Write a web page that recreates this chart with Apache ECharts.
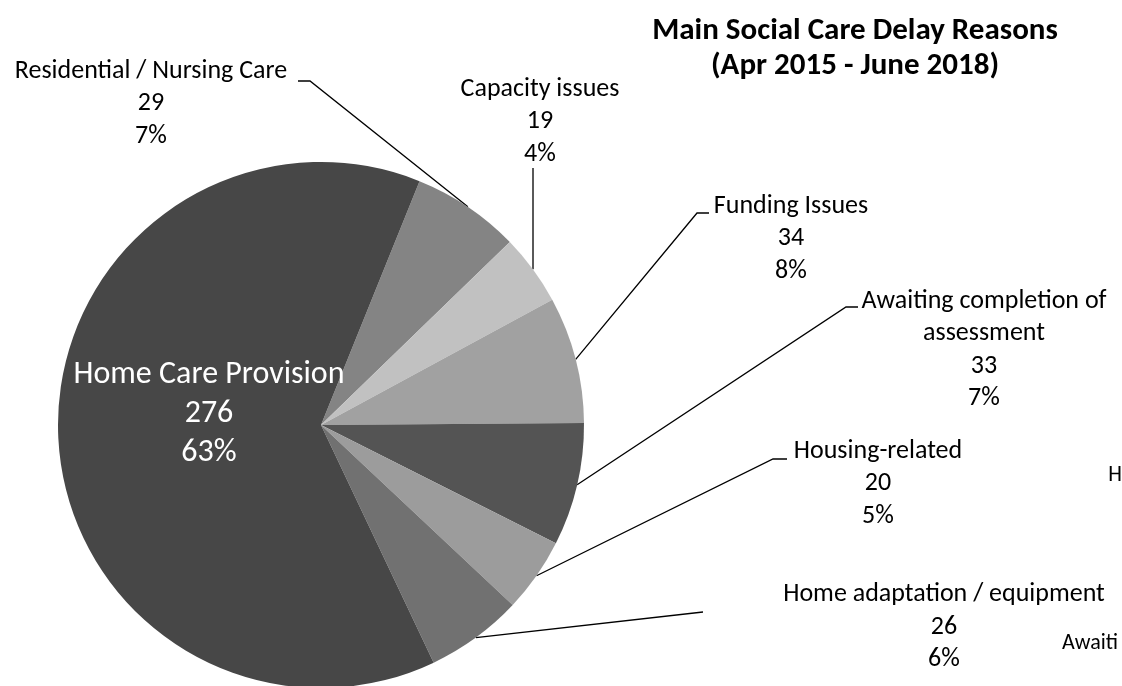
<!DOCTYPE html>
<html>
<head>
<meta charset="utf-8">
<script src="https://cdn.jsdelivr.net/npm/echarts@6/dist/echarts.min.js"></script>
<style>
html,body{margin:0;padding:0;background:#ffffff;}
#chart{width:1122px;height:686px;}
</style>
</head>
<body>
<div id="chart"></div>
<script>
// ---- data ----
const categories = [
  'Residential / Nursing Care',
  'Capacity issues',
  'Funding Issues',
  'Awaiting completion of\nassessment',
  'Housing-related',
  'Home adaptation / equipment',
  'Home Care Provision',
  'H',
  'Awaiti'
];
const values = [29, 19, 34, 33, 20, 26, 276, 0, 0];
const percentLabels = ['7%', '4%', '8%', '7%', '5%', '6%', '63%', '', ''];
const titleLines = ['Main Social Care Delay Reasons', '(Apr 2015 - June 2018)'];

// ---- styles ----
const sliceColors = ['#848484', '#c1c1c1', '#a1a1a1', '#545454', '#9c9c9c', '#717171', '#474747', '#474747', '#474747'];
const FONT = 'Carlito, Lato, sans-serif';

// label placement (layout only)
const labelPlacement = [
  { x: 151, y: 103.5, align: 'center', line: [[310, 81], [298, 81]] },
  { x: 540, y: 121.5, align: 'center', line: 'vertical', lineTop: 168 },
  { x: 791, y: 238.5, align: 'center', line: [[697, 213], [709, 213]] },
  { x: 984, y: 350, align: 'center', line: [[846, 307], [858, 307]] },
  { x: 878, y: 483.5, align: 'center', line: [[773, 459], [787, 459]] },
  { x: 944, y: 627, align: 'center', line: [[703, 612]] },
  { x: 209, y: 414, align: 'center' },
  { x: 1122, y: 475, align: 'right' },
  { x: 1062, y: 643, align: 'left' }
];

const seriesData = categories.map(function (name, i) {
  const item = { name: name, value: values[i], itemStyle: { color: sliceColors[i] } };
  if (name === 'Home Care Provision') {
    item.label = { position: 'inside', color: '#ffffff', fontSize: 32, lineHeight: 39 };
    item.labelLine = { show: false };
  }
  if (values[i] === 0) {
    item.label = { fontSize: 22, lineHeight: 26 };
    item.labelLine = { show: false };
  }
  return item;
});

const chart = echarts.init(document.getElementById('chart'));
chart.setOption({
  backgroundColor: '#ffffff',
  animation: false,
  title: {
    text: titleLines.join('\n'),
    left: 855,
    top: 14,
    textAlign: 'center',
    padding: 0,
    textStyle: {
      fontFamily: FONT,
      fontSize: 31,
      fontWeight: 'bold',
      lineHeight: 35,
      color: '#000000'
    }
  },
  series: [{
    type: 'pie',
    center: [321, 425],
    radius: 263,
    startAngle: 68,
    clockwise: true,
    avoidLabelOverlap: false,
    silent: true,
    itemStyle: { borderWidth: 0 },
    label: {
      show: true,
      position: 'outside',
      fontFamily: FONT,
      fontSize: 26,
      lineHeight: 32.5,
      color: '#000000',
      align: 'center',
      formatter: function (p) {
        const i = p.dataIndex;
        if (values[i] === 0) return p.name;
        return p.name + '\n' + values[i] + '\n' + percentLabels[i];
      }
    },
    labelLine: {
      show: true,
      length: 20,
      length2: 10,
      lineStyle: { color: '#000000', width: 1.3 }
    },
    labelLayout: function (params) {
      const p = labelPlacement[params.dataIndex];
      const out = { x: p.x, y: p.y, align: p.align, verticalAlign: 'middle' };
      if (p.line && params.labelLinePoints && params.labelLinePoints.length) {
        const s = params.labelLinePoints[0];
        out.labelLinePoints = p.line === 'vertical'
          ? [s, [s[0], p.lineTop]]
          : [s].concat(p.line);
      }
      return out;
    },
    data: seriesData
  }]
});
</script>
</body>
</html>
